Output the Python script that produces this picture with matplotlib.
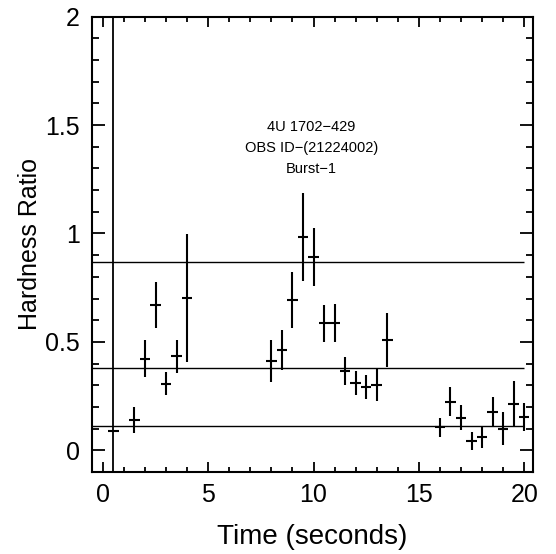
import numpy as np
import matplotlib
matplotlib.use('Agg')
import matplotlib.pyplot as plt
from matplotlib.ticker import MultipleLocator

plt.rcParams['font.family'] = ['Liberation Sans', 'DejaVu Sans']

# hardness ratio per 0.5 s bin
times = [0.5, 1.5, 2.0, 2.5, 3.0, 3.5, 4.0,
         8.0, 8.5, 9.0, 9.5, 10.0, 10.5, 11.0, 11.5, 12.0, 12.5, 13.0, 13.5,
         16.0, 16.5, 17.0, 17.5, 18.0, 18.5, 19.0, 19.5, 20.0]
hr = [0.088, 0.14, 0.423, 0.67, 0.307, 0.433, 0.702,
      0.412, 0.462, 0.694, 0.982, 0.891, 0.585, 0.588, 0.366, 0.312, 0.293, 0.301, 0.508,
      0.107, 0.223, 0.151, 0.043, 0.061, 0.177, 0.10, 0.215, 0.154]
hr_err = [0.0, 0.06, 0.085, 0.107, 0.052, 0.077, 0.297,
          0.097, 0.093, 0.128, 0.203, 0.133, 0.087, 0.088, 0.063, 0.055, 0.055, 0.072, 0.124,
          0.044, 0.067, 0.059, 0.042, 0.048, 0.069, 0.077, 0.105, 0.065]
bin_half = 0.25

levels = [0.87, 0.38, 0.11]
burst_start = 0.5

xticks = [0, 5, 10, 15, 20]
yticks = [0, 0.5, 1, 1.5, 2]
ytick_labels = ['0', '0.5', '1', '1.5', '2']

info_lines = ['4U 1702\u2212429', 'OBS ID\u2212(21224002)', 'Burst\u22121']

fig = plt.figure(figsize=(5.56, 5.54), dpi=100)
ax = fig.add_axes([0.166, 0.148, 0.792, 0.822])

ax.errorbar(times, hr, xerr=bin_half, yerr=hr_err, fmt='none',
            ecolor='black', elinewidth=1.5, capsize=0)
ax.hlines(levels, -0.5, 20, colors='black', linewidth=1.0)
ax.axvline(burst_start, color='black', linewidth=1.3)

# text block in the middle
for txt, yy in zip(info_lines, [1.492, 1.395, 1.296]):
    ax.text(9.9, yy, txt, ha='center', va='center', fontsize=10.5)

ax.set_xlim(-0.5, 20.4)
ax.set_ylim(-0.1, 2.0)
ax.set_xticks(xticks)
ax.set_yticks(yticks)
ax.set_yticklabels(ytick_labels)
ax.xaxis.set_minor_locator(MultipleLocator(1))
ax.yaxis.set_minor_locator(MultipleLocator(0.1))

ax.tick_params(which='both', direction='in', top=True, right=True, width=1.3)
ax.tick_params(axis='x', which='major', length=7, labelsize=18, pad=8)
ax.tick_params(axis='x', which='minor', length=3.5)
ax.tick_params(axis='y', which='major', length=9.5, labelsize=18, pad=9)
ax.tick_params(axis='y', which='minor', length=4.8)
for s in ax.spines.values():
    s.set_linewidth(1.5)

ax.set_xlabel('Time (seconds)', fontsize=20, labelpad=12)
ax.set_ylabel('Hardness Ratio', fontsize=18, labelpad=2)

fig.savefig('out.png', dpi=100)
